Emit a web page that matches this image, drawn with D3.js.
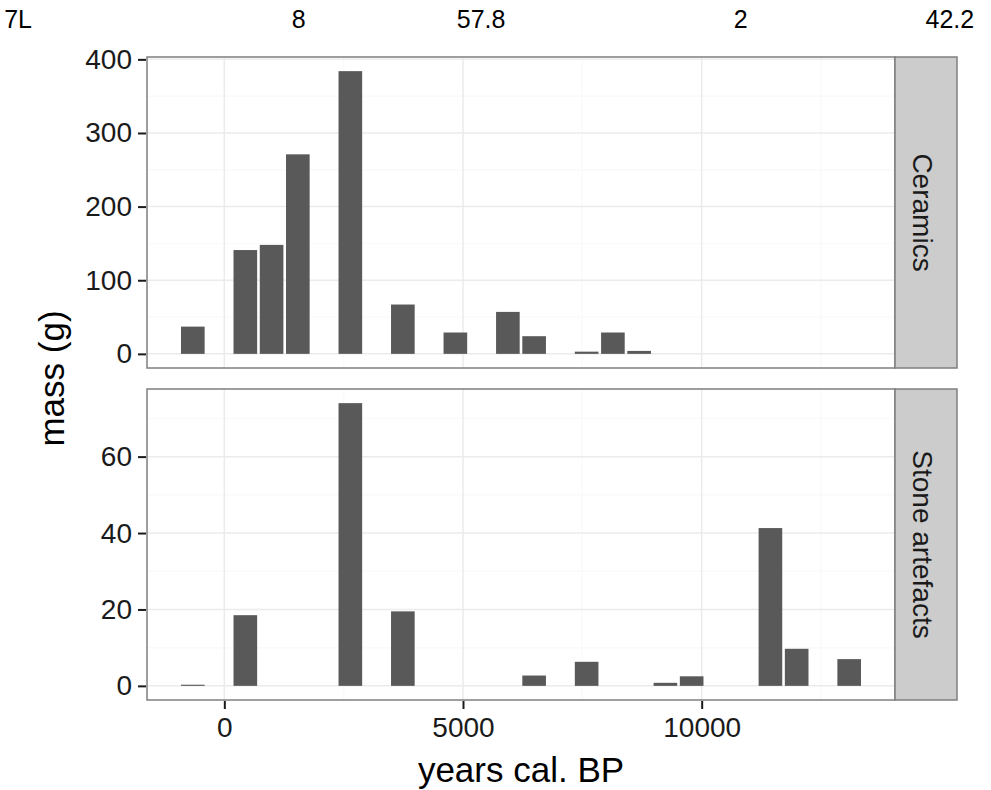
<!DOCTYPE html>
<html>
<head>
<meta charset="utf-8">
<script src="https://cdn.jsdelivr.net/npm/d3@7"></script>
<style>
  body { margin: 0; background: #fff; }
  text { font-family: "Liberation Sans", Arial, Helvetica, sans-serif; }
</style>
</head>
<body>
<svg width="991" height="790"></svg>
<script>
// bin centres (years cal. BP) and mass per bin, null = empty bin
const binYears = [-660, -110, 440, 990, 1540, 2090, 2640, 3190, 3740, 4290, 4840, 5390, 5940,
  6490, 7040, 7590, 8140, 8690, 9240, 9790, 10340, 10890, 11440, 11990, 12540, 13090];
const ceramicsMass = [37, null, 141, 148, 271, null, 384, null, 67, null, 29, null, 57,
  24, null, 3, 29, 4, null, null, null, null, null, null, null, null];
const stoneMass = [0.3, null, 18.5, null, null, null, 74, null, 19.5, null, null, null, null,
  2.7, null, 6.3, null, null, 0.8, 2.5, null, null, 41.3, 9.7, null, 7];
const binWidth = 550;

const facetNames = ['Ceramics', 'Stone artefacts'];
const xTicks = [0, 5000, 10000];
const xMinorTicks = [2500, 7500, 12500];
const yTicksCeramics = [0, 100, 200, 300, 400];
const yMinorCeramics = [50, 150, 250, 350];
const yTicksStone = [0, 20, 40, 60];
const yMinorStone = [10, 30, 50, 70];

const topLabels = ['7L', '8', '57.8', '2', '42.2'];
const topLabelYears = [-4320, 1560, 5380, 10820, 15200];

const svg = d3.select('svg');

const panelLeft = 147;
const panelRight = 895;
const stripRight = 957;
const panels = [
  { name: facetNames[0], values: ceramicsMass, ticks: yTicksCeramics, minor: yMinorCeramics, top: 57, bottom: 368 },
  { name: facetNames[1], values: stoneMass, ticks: yTicksStone, minor: yMinorStone, top: 389, bottom: 700 }
];

// x scale: bar extents plus ggplot's 5% expansion
const barEdges = [d3.min(binYears) - binWidth * 0.45, d3.max(binYears) + binWidth * 0.45];
const xPad = (barEdges[1] - barEdges[0]) * 0.05;
const xScale = d3.scaleLinear()
  .domain([barEdges[0] - xPad, barEdges[1] + xPad])
  .range([panelLeft, panelRight]);

panels.forEach(p => {
  const rows = binYears.map((year, i) => ({ year, mass: p.values[i] }))
    .filter(d => d.mass !== null);
  const maxMass = d3.max(rows, d => d.mass);
  const yPad = maxMass * 0.05;
  const yScale = d3.scaleLinear()
    .domain([-yPad, maxMass + yPad])
    .range([p.bottom, p.top]);

  const g = svg.append('g');

  g.append('rect')
    .attr('x', panelLeft).attr('y', p.top)
    .attr('width', panelRight - panelLeft).attr('height', p.bottom - p.top)
    .attr('fill', '#fff');

  //minor grid
  g.selectAll('.xminor').data(xMinorTicks).enter().append('line')
    .attr('x1', d => xScale(d)).attr('x2', d => xScale(d))
    .attr('y1', p.top).attr('y2', p.bottom)
    .attr('stroke', '#fafafa').attr('stroke-width', 1.5);
  g.selectAll('.yminor').data(p.minor).enter().append('line')
    .attr('x1', panelLeft).attr('x2', panelRight)
    .attr('y1', d => yScale(d)).attr('y2', d => yScale(d))
    .attr('stroke', '#fafafa').attr('stroke-width', 1.5);

  //major grid
  g.selectAll('.xmajor').data(xTicks).enter().append('line')
    .attr('x1', d => xScale(d)).attr('x2', d => xScale(d))
    .attr('y1', p.top).attr('y2', p.bottom)
    .attr('stroke', '#ebebeb').attr('stroke-width', 1.5);
  g.selectAll('.ymajor').data(p.ticks).enter().append('line')
    .attr('x1', panelLeft).attr('x2', panelRight)
    .attr('y1', d => yScale(d)).attr('y2', d => yScale(d))
    .attr('stroke', '#ebebeb').attr('stroke-width', 1.5);

  //bars
  const barW = xScale(binWidth * 0.9) - xScale(0);
  g.selectAll('.bar').data(rows).enter().append('rect')
    .attr('x', d => xScale(d.year) - barW / 2)
    .attr('width', barW)
    .attr('y', d => yScale(d.mass))
    .attr('height', d => yScale(0) - yScale(d.mass))
    .attr('fill', '#595959');

  g.append('rect')
    .attr('x', panelLeft).attr('y', p.top)
    .attr('width', panelRight - panelLeft).attr('height', p.bottom - p.top)
    .attr('fill', 'none').attr('stroke', '#7f7f7f').attr('stroke-width', 1.5);

  //strip
  g.append('rect')
    .attr('x', panelRight).attr('y', p.top)
    .attr('width', stripRight - panelRight).attr('height', p.bottom - p.top)
    .attr('fill', '#cccccc').attr('stroke', '#7f7f7f').attr('stroke-width', 1.5);
  g.append('text')
    .attr('transform', `translate(${(panelRight + stripRight) / 2 - 3},${(p.top + p.bottom) / 2}) rotate(90)`)
    .attr('text-anchor', 'middle')
    .attr('dy', '0.36em')
    .attr('font-size', 28)
    .attr('fill', '#1a1a1a')
    .text(p.name);

  //y axis
  const yAxis = d3.axisLeft(yScale)
    .tickValues(p.ticks)
    .tickSize(8)
    .tickPadding(6)
    .tickFormat(d3.format('d'));
  const yAxisG = g.append('g')
    .attr('transform', `translate(${panelLeft - 1},0)`)
    .call(yAxis);
  yAxisG.select('.domain').remove();
  yAxisG.selectAll('line').attr('stroke', '#1a1a1a').attr('stroke-width', 2);
  yAxisG.selectAll('text')
    .attr('font-size', 28)
    .attr('font-family', '"Liberation Sans", Arial, Helvetica, sans-serif')
    .attr('fill', '#1a1a1a');
});

//x axis under the lower panel
const xAxis = d3.axisBottom(xScale)
  .tickValues(xTicks)
  .tickSize(8)
  .tickPadding(8)
  .tickFormat(d3.format('d'));
const xAxisG = svg.append('g')
  .attr('transform', `translate(0,${panels[1].bottom + 1})`)
  .call(xAxis);
xAxisG.select('.domain').remove();
xAxisG.selectAll('line').attr('stroke', '#1a1a1a').attr('stroke-width', 2);
xAxisG.selectAll('text')
  .attr('font-size', 28)
  .attr('font-family', '"Liberation Sans", Arial, Helvetica, sans-serif')
  .attr('fill', '#1a1a1a');

//axis titles
svg.append('text')
  .attr('x', (panelLeft + panelRight) / 2)
  .attr('y', 782)
  .attr('text-anchor', 'middle')
  .attr('font-size', 35)
  .text('years cal. BP');

svg.append('text')
  .attr('transform', `translate(64,${(panels[0].top + panels[1].bottom) / 2}) rotate(-90)`)
  .attr('text-anchor', 'middle')
  .attr('font-size', 35)
  .text('mass (g)');

//labels along the top edge
svg.selectAll('.toplabel').data(topLabels).enter().append('text')
  .attr('x', (d, i) => xScale(topLabelYears[i]))
  .attr('y', 28)
  .attr('text-anchor', 'middle')
  .attr('font-size', 25)
  .text(d => d);
</script>
</body>
</html>
